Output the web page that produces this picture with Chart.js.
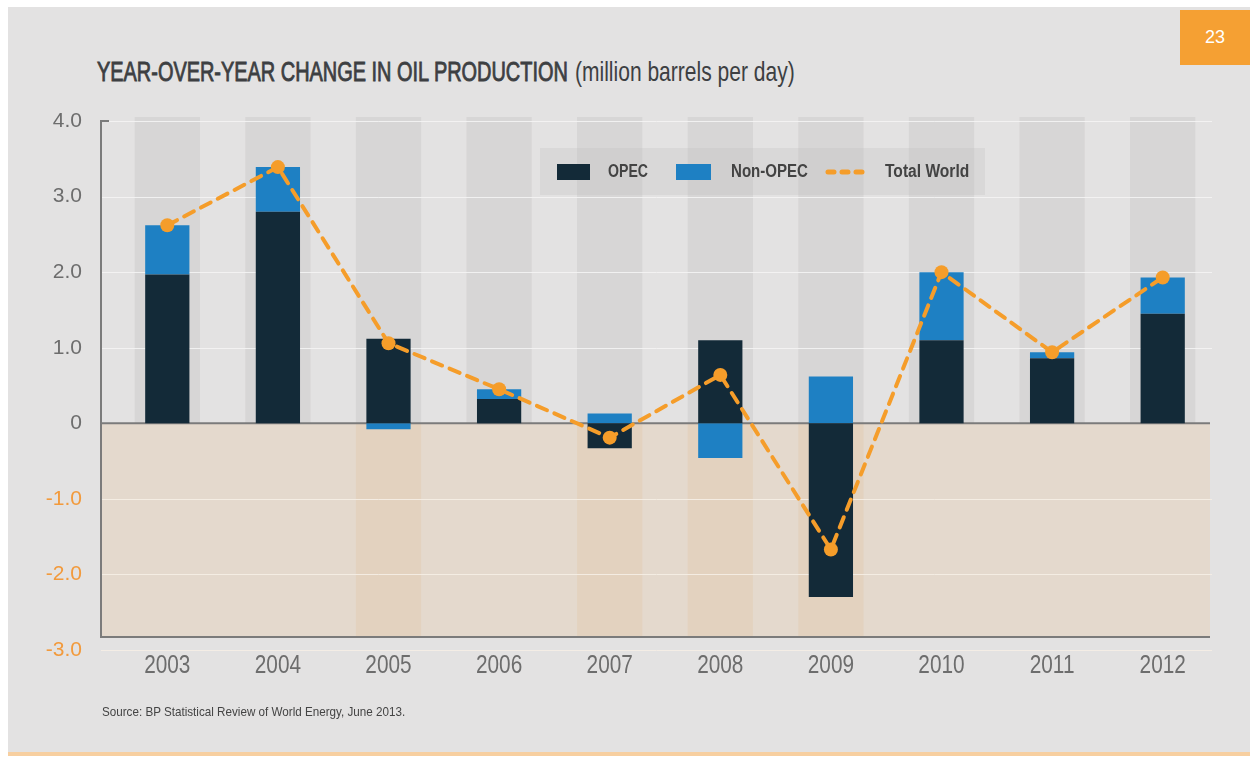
<!DOCTYPE html>
<html>
<head>
<meta charset="utf-8">
<script src="https://cdn.jsdelivr.net/npm/chart.js@4.4.1/dist/chart.umd.min.js"></script>
<style>
    body { margin: 0; background: #fff; width: 1250px; height: 758px; position: relative; overflow: hidden; }
    #panel { position: absolute; left: 8px; top: 7px; width: 1242px; height: 745px; background: #e3e2e2; border-bottom: 4px solid #f7cfa0; }
    #pageNo { position: absolute; left: 1180px; top: 10px; width: 70px; height: 55px; background: #f5a033; color: #fff;
        font: 18px 'Liberation Sans', sans-serif; text-align: center; line-height: 55px; }
    .fit { position: absolute; white-space: nowrap; transform-origin: 0 0; font-family: 'Liberation Sans', sans-serif; }
    #titleMain { left: 97px; top: 56px; font-size: 28px; color: #3d3f42; -webkit-text-stroke: 0.9px #3d3f42; }
    #titleUnit { left: 575px; top: 56px; font-size: 28px; color: #3d3f42; }
    #chartWrap { position: absolute; left: 0; top: 0; }
    #legend { position: absolute; left: 540px; top: 148px; width: 445px; height: 47px; background: rgba(190, 189, 189, 0.28); }
    #legend .sw { position: absolute; top: 16px; height: 16px; }
    #legend .fit { top: 13px; font-size: 18px; font-weight: bold; color: #434343; }
    #source { left: 102px; top: 704px; font-size: 13px; color: #444; }
</style>
</head>
<body>
<div id="panel"></div>
<div id="pageNo">23</div>
<div class="fit" id="titleMain" data-w="471">YEAR-OVER-YEAR CHANGE IN OIL PRODUCTION</div>
<div class="fit" id="titleUnit" data-w="220">(million barrels per day)</div>
<div id="chartWrap"><canvas id="oilChart" width="1250" height="758"></canvas></div>
<div id="legend">
    <div class="sw" style="left:17px;width:33px;background:#132a38;"></div>
    <div class="fit" style="left:68px;" data-w="40">OPEC</div>
    <div class="sw" style="left:136px;width:35px;background:#1e80c3;"></div>
    <div class="fit" style="left:191px;" data-w="77">Non-OPEC</div>
    <svg class="sw" style="left:285px;top:16px;" width="44" height="16"><line x1="3" y1="8" x2="42" y2="8" stroke="#f59d2a" stroke-width="5" stroke-linecap="round" stroke-dasharray="6 8"/></svg>
    <div class="fit" style="left:345px;" data-w="84">Total World</div>
</div>
<div class="fit" id="source" data-w="303">Source: BP Statistical Review of World Energy, June 2013.</div>

<script>
const years = ['2003', '2004', '2005', '2006', '2007', '2008', '2009', '2010', '2011', '2012'];
const opec = [1.97, 2.80, 1.12, 0.32, -0.33, 1.10, -2.30, 1.10, 0.86, 1.45];
const nonOpec = [0.65, 0.59, -0.08, 0.13, 0.13, -0.46, 0.62, 0.90, 0.08, 0.48];
const totalWorld = [2.62, 3.39, 1.06, 0.45, -0.19, 0.64, -1.67, 2.00, 0.94, 1.93];
const yMin = -3;
const yMax = 4;

const orange = '#f59d2a';
const axisGrey = '#7b7b7b';

// squeeze the text to the condensed widths of the original
document.querySelectorAll('.fit').forEach(el => {
    const w = parseFloat(el.dataset.w);
    el.style.transform = 'scaleX(' + (w / el.offsetWidth) + ')';
});

// backgrounds, column bands, grid and axis lines
const backdrop = {
    id: 'backdrop',
    beforeDatasetsDraw(chart) {
        const c = chart.ctx;
        const area = chart.chartArea;
        const x = chart.scales.x;
        const y = chart.scales.y;
        const left = area.left - 11;
        const right = area.right - 8;
        const zero = y.getPixelForValue(0);
        const floor = area.bottom - 13;
        const bandW = x.width / years.length * 0.59;

        c.save();
        c.fillStyle = '#e4d9cd';
        c.fillRect(left, zero, right - left, floor - zero);

        years.forEach((yr, i) => {
            const cx = x.getPixelForValue(i);
            c.fillStyle = '#d7d6d6';
            c.fillRect(cx - bandW / 2, area.top - 4, bandW, zero - area.top + 4);
            if (Math.min(opec[i], nonOpec[i]) < 0) {
                c.fillStyle = '#e3d2bf';
                c.fillRect(cx - bandW / 2, zero, bandW, floor - zero);
            }
        });

        for (let v = yMin; v <= yMax; v++) {
            if (v === 0) continue;
            const py = Math.round(y.getPixelForValue(v)) + 0.5;
            c.strokeStyle = v < 0 ? 'rgba(245,238,230,0.9)' : 'rgba(244,244,244,0.9)';
            c.lineWidth = 1;
            c.beginPath();
            c.moveTo(left, py);
            c.lineTo(right + 2, py);
            c.stroke();
        }

        c.strokeStyle = axisGrey;
        c.lineWidth = 2;
        c.beginPath();
        c.moveTo(left + 8, area.top);
        c.lineTo(left, area.top);
        c.lineTo(left, floor);
        c.lineTo(right, floor);
        c.stroke();
        c.beginPath();
        c.moveTo(left, zero);
        c.lineTo(right, zero);
        c.stroke();
        c.restore();
    },
    afterDraw(chart) {
        // condensed year labels under the columns
        const c = chart.ctx;
        const x = chart.scales.x;
        const ty = chart.chartArea.bottom + 16;
        c.save();
        c.font = '26px "Liberation Sans", sans-serif';
        c.fillStyle = '#6d6d6d';
        c.textAlign = 'center';
        c.textBaseline = 'middle';
        years.forEach((yr, i) => {
            const cx = x.getPixelForValue(i);
            c.save();
            c.translate(cx, ty);
            c.scale(0.8, 1);
            c.fillText(x.getLabelForValue(i), 0, 0);
            c.restore();
        });
        c.restore();
    }
};

const ctx = document.getElementById('oilChart').getContext('2d');
new Chart(ctx, {
    type: 'bar',
    data: {
        labels: years,
        datasets: [
            {
                type: 'line',
                label: 'Total World',
                data: totalWorld,
                stack: 'world',
                order: 0,
                borderColor: orange,
                borderWidth: 4,
                borderDash: [11, 8],
                borderCapStyle: 'round',
                tension: 0,
                fill: false,
                pointRadius: 7,
                pointBackgroundColor: orange,
                pointBorderWidth: 0
            },
            {
                label: 'OPEC',
                data: opec,
                stack: 'prod',
                order: 1,
                backgroundColor: '#132a38',
                categoryPercentage: 1,
                barPercentage: 0.4
            },
            {
                label: 'Non-OPEC',
                data: nonOpec,
                stack: 'prod',
                order: 1,
                backgroundColor: '#1e80c3',
                categoryPercentage: 1,
                barPercentage: 0.4
            }
        ]
    },
    options: {
        responsive: false,
        animation: false,
        layout: { padding: { left: 0, right: 32, top: 121, bottom: 0 } },
        plugins: {
            legend: { display: false },
            tooltip: { enabled: false }
        },
        scales: {
            x: {
                stacked: true,
                grid: { display: false, drawTicks: false },
                border: { display: false },
                ticks: { display: false },
                afterFit(scale) { scale.height = 108; }
            },
            y: {
                stacked: true,
                min: yMin,
                max: yMax,
                grid: { display: false, drawTicks: false },
                border: { display: false },
                ticks: {
                    stepSize: 1,
                    padding: 30,
                    color: (c) => c.tick.value < 0 ? '#f29a3c' : '#6d6d6d',
                    font: { family: "'Liberation Sans', sans-serif", size: 21 },
                    callback: (v) => v === 0 ? '0' : v.toFixed(1)
                },
                afterFit(scale) { scale.width = 112; }
            }
        }
    },
    plugins: [backdrop]
});
</script>
</body>
</html>
